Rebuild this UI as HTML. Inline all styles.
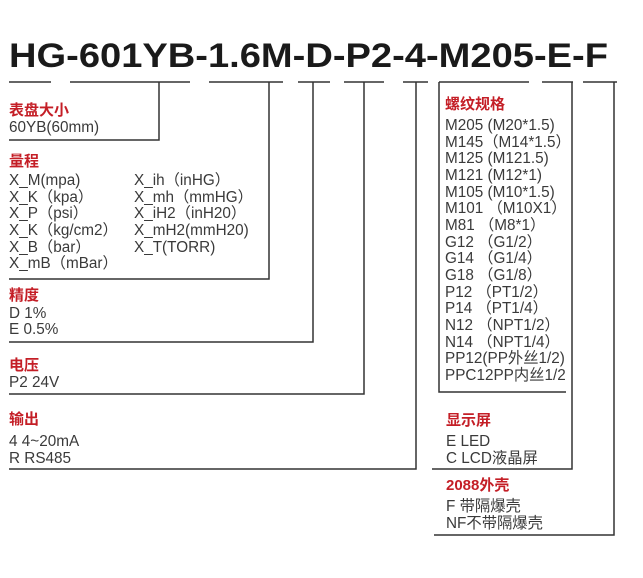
<!DOCTYPE html>
<html><head><meta charset="utf-8"><style>
html,body{margin:0;padding:0;background:#fff;}
svg{display:block;}
text{font-family:"Liberation Sans","Noto Sans CJK SC",sans-serif;}
.t{font-size:15.3px;fill:#3a3a3a;}
.r{font-size:15px;fill:#c41e26;font-weight:bold;}
</style></head><body>
<svg width="643" height="578" viewBox="0 0 643 578" xmlns="http://www.w3.org/2000/svg">
<text x="9" y="67" font-size="34" font-weight="bold" fill="#1a1a1a" textLength="599" lengthAdjust="spacingAndGlyphs">HG-601YB-1.6M-D-P2-4-M205-E-F</text>
<g stroke="#333" stroke-width="1.5" fill="none">
<line x1="9" y1="82" x2="51" y2="82"/>
<line x1="70" y1="82" x2="190" y2="82"/>
<line x1="209" y1="82" x2="283" y2="82"/>
<line x1="298" y1="82" x2="330" y2="82"/>
<line x1="344" y1="82" x2="384" y2="82"/>
<line x1="403" y1="82" x2="428" y2="82"/>
<line x1="439" y1="82" x2="529" y2="82"/>
<line x1="542" y1="82" x2="573" y2="82"/>
<line x1="583" y1="82" x2="617" y2="82"/>
<polyline points="159,82 159,140 9,140"/>
<polyline points="269,82 269,279 9,279"/>
<polyline points="313,82 313,342 9,342"/>
<polyline points="364,82 364,394 9,394"/>
<polyline points="416,82 416,469 9,469"/>
<polyline points="439,82 439,392 566,392"/>
<polyline points="572,82 572,469 432,469"/>
<polyline points="614,82 614,535 434,535"/>
</g>
<text class="r" x="9" y="115">表盘大小</text>
<text class="t" x="9" y="132">60YB(60mm)</text>
<text class="r" x="9" y="166">量程</text>
<text class="t" x="9" y="185">X_M(mpa)</text>
<text class="t" x="9" y="202">X_K（kpa）</text>
<text class="t" x="9" y="218">X_P（psi）</text>
<text class="t" x="9" y="235">X_K（kg/cm2）</text>
<text class="t" x="9" y="252">X_B（bar）</text>
<text class="t" x="9" y="268">X_mB（mBar）</text>
<text class="t" x="134" y="185">X_ih（inHG）</text>
<text class="t" x="134" y="202">X_mh（mmHG）</text>
<text class="t" x="134" y="218">X_iH2（inH20）</text>
<text class="t" x="134" y="235">X_mH2(mmH20)</text>
<text class="t" x="134" y="252">X_T(TORR)</text>
<text class="r" x="9" y="300">精度</text>
<text class="t" x="9" y="318">D 1%</text>
<text class="t" x="9" y="334">E 0.5%</text>
<text class="r" x="9" y="370">电压</text>
<text class="t" x="9" y="387">P2  24V</text>
<text class="r" x="9" y="424">输出</text>
<text class="t" x="9" y="446">4 4~20mA</text>
<text class="t" x="9" y="463">R RS485</text>
<text class="r" x="445" y="109">螺纹规格</text>
<text class="t" x="445" y="130">M205 (M20*1.5)</text>
<text class="t" x="445" y="147">M145（M14*1.5）</text>
<text class="t" x="445" y="163">M125 (M121.5)</text>
<text class="t" x="445" y="180">M121 (M12*1)</text>
<text class="t" x="445" y="197">M105 (M10*1.5)</text>
<text class="t" x="445" y="213">M101 （M10X1）</text>
<text class="t" x="445" y="230">M81  （M8*1）</text>
<text class="t" x="445" y="247">G12  （G1/2）</text>
<text class="t" x="445" y="263">G14  （G1/4）</text>
<text class="t" x="445" y="280">G18  （G1/8）</text>
<text class="t" x="445" y="297">P12  （PT1/2）</text>
<text class="t" x="445" y="313">P14  （PT1/4）</text>
<text class="t" x="445" y="330">N12  （NPT1/2）</text>
<text class="t" x="445" y="347">N14  （NPT1/4）</text>
<text class="t" x="445" y="363">PP12(PP外丝1/2)</text>
<text class="t" x="445" y="380">PPC12PP内丝1/2</text>
<text class="r" x="446" y="425">显示屏</text>
<text class="t" x="446" y="446">E LED</text>
<text class="t" x="446" y="463">C LCD液晶屏</text>
<text class="r" x="446" y="490">2088外壳</text>
<text class="t" x="446" y="511">F 带隔爆壳</text>
<text class="t" x="446" y="528">NF不带隔爆壳</text>
</svg>
</body></html>
